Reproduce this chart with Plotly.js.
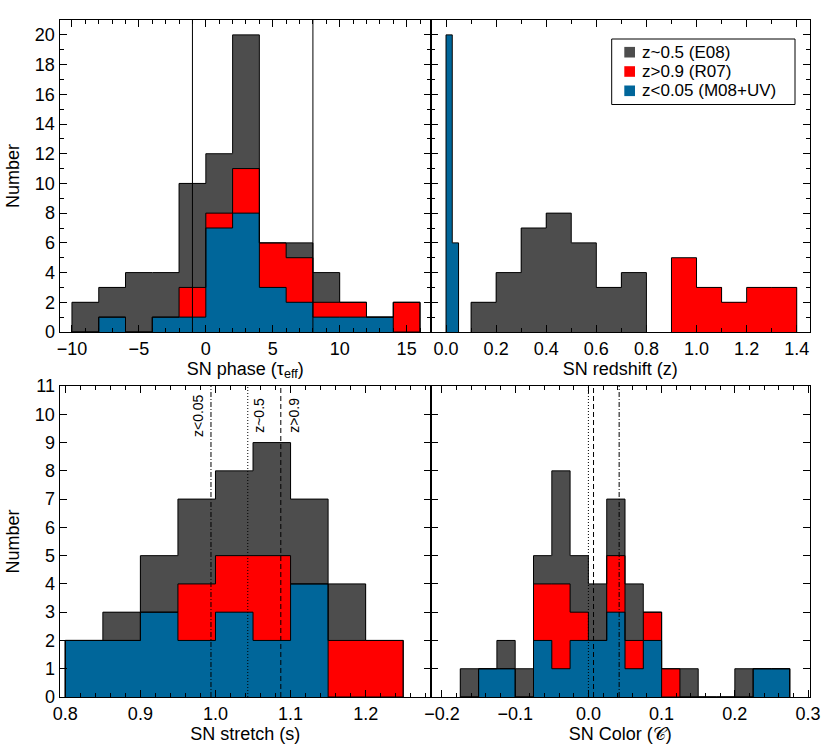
<!DOCTYPE html>
<html><head><meta charset="utf-8">
<script src="https://cdn.plot.ly/plotly-3.0.1.min.js"></script>
<style>html,body{margin:0;padding:0;background:#fff}#plot{width:830px;height:747px}</style>
</head><body><div id="plot"></div>
<script>
// ---------------- DATA ----------------
const seriesNames = ["z~0.5 (E08)", "z>0.9 (R07)", "z<0.05 (M08+UV)"];

// SN phase histogram (bins of 2 days starting at -10)
const phaseBinStart = -10, phaseBinWidth = 2;
const phaseE08 = [2, 2, 4, 3, 7, 4, 9, 0, 1, 2, 0, 0, 0];
const phaseR07 = [0, 0, 0, 0, 2, 1, 3, 3, 3, 1, 1, 0, 2];
const phaseM08 = [0, 1, 0, 1, 1, 7, 8, 3, 2, 1, 1, 1, 0];
const phaseCuts = [-1, 8];

// SN redshift histograms
const zE08Start = 0.1, zE08Width = 0.1;
const zE08 = [2, 4, 7, 8, 6, 3, 4];
const zR07Start = 0.9, zR07Width = 0.1;
const zR07 = [5, 3, 2, 3, 3];
const zM08Start = 0.0, zM08Width = 0.025;
const zM08 = [20, 6];

// SN stretch histogram
const stretchBinStart = 0.8, stretchBinWidth = 0.05;
const stretchE08 = [0, 1, 2, 3, 3, 4, 3, 2, 0];
const stretchR07 = [0, 0, 0, 2, 2, 3, 0, 2, 2];
const stretchM08 = [2, 2, 3, 2, 3, 2, 4, 0, 0];
const stretchMeanLabels = ["z<0.05", "z~0.5", "z>0.9"];
const stretchMeans = [0.994, 1.043, 1.087];

// SN color histogram
const colorBinStart = -0.175, colorBinWidth = 0.025;
const colorE08 = [1, 0, 1, 1, 1, 4, 2, 2, 2, 2, 0, 0, 1, 0, 0, 1, 0, 0];
const colorR07 = [0, 0, 0, 0, 2, 3, 1, 0, 2, 1, 1, 1, 0, 0, 0, 0, 0, 0];
const colorM08 = [0, 1, 1, 0, 2, 1, 2, 2, 3, 1, 2, 0, 0, 0, 0, 0, 1, 1];
const colorMeans = [0.042, 0.0, 0.007];   // z<0.05, z~0.5, z>0.9

// ---------------- STYLE ----------------
const COLS = ["#4d4d4d", "#ff0000", "#00669a"];
const FONT = "Liberation Sans, Arial, sans-serif";
const FS = 18;
const dashes = ["5px,2px,1px,2px", "1px,2px", "5px,3px"]; // z<0.05, z~0.5, z>0.9

const traces = [];
function addSum(a, b) { return a.map((v, i) => v + b[i]); }
function histTraces(xa, ya, start, width, counts, color, name) {
  const centers = counts.map((_, i) => start + width * (i + 0.5));
  traces.push({type: "bar", x: centers, y: counts, width: counts.map(() => width),
    xaxis: xa, yaxis: ya, marker: {color: color, line: {width: 0}},
    name: name, showlegend: false, hoverinfo: "skip"});
}
function outlineTrace(xa, ya, start, width, counts) {
  const xs = [start], ys = [0];
  counts.forEach((c, i) => { xs.push(start + width * i); ys.push(c); });
  xs.push(start + width * counts.length); ys.push(0);
  traces.push({type: "scatter", mode: "lines", x: xs, y: ys, xaxis: xa, yaxis: ya,
    line: {color: "#000", width: 1, shape: "hv"}, showlegend: false, hoverinfo: "skip"});
}
function stacked(xa, ya, start, width, e08, r07, m08) {
  const layers = [addSum(addSum(e08, r07), m08), addSum(r07, m08), m08];
  layers.forEach((c, k) => histTraces(xa, ya, start, width, c, COLS[k], seriesNames[k]));
  layers.forEach(c => outlineTrace(xa, ya, start, width, c));
}

// Panel 1: phase
stacked("x", "y", phaseBinStart, phaseBinWidth, phaseE08, phaseR07, phaseM08);
// Panel 2: redshift
histTraces("x2", "y2", zE08Start, zE08Width, zE08, COLS[0], seriesNames[0]);
histTraces("x2", "y2", zR07Start, zR07Width, zR07, COLS[1], seriesNames[1]);
histTraces("x2", "y2", zM08Start, zM08Width, zM08, COLS[2], seriesNames[2]);
outlineTrace("x2", "y2", zE08Start, zE08Width, zE08);
outlineTrace("x2", "y2", zR07Start, zR07Width, zR07);
outlineTrace("x2", "y2", zM08Start, zM08Width, zM08);
// Panel 3: stretch
stacked("x3", "y3", stretchBinStart, stretchBinWidth, stretchE08, stretchR07, stretchM08);
// Panel 4: color
stacked("x4", "y4", colorBinStart, colorBinWidth, colorE08, colorR07, colorM08);

// ---------------- LAYOUT ----------------
const W = 830, H = 747;
const xL = [59.5 / W, 431 / W], xR = [431 / W, 809.5 / W];
const yT = [(H - 332) / H, (H - 20) / H], yB = [(H - 697) / H, (H - 386) / H];

function axis(extra) {
  return Object.assign({
    showline: true, linecolor: "#000", linewidth: 1, mirror: "allticks",
    ticks: "inside", ticklen: 7, tickwidth: 1, tickcolor: "#000",
    showgrid: false, zeroline: false, fixedrange: true,
    tickfont: {family: FONT, size: FS, color: "#000"}
  }, extra);
}
function minor(d) { return {dtick: d, ticks: "inside", ticklen: 4, tickwidth: 1, tickcolor: "#000", showgrid: false}; }
function xtitle(t) { return {text: t, standoff: 3, font: {family: FONT, size: FS, color: "#000"}}; }
function ytitle(t) { return {text: t, standoff: 10, font: {family: FONT, size: FS, color: "#000"}}; }

const shapes = [];
phaseCuts.forEach(v => shapes.push({type: "line", xref: "x", yref: "y domain",
  x0: v, x1: v, y0: 0, y1: 1, line: {color: "#000", width: 1}}));
stretchMeans.forEach((v, i) => shapes.push({type: "line", xref: "x3", yref: "y3 domain",
  x0: v, x1: v, y0: 0, y1: 1, line: {color: "#000", width: 1, dash: dashes[i]}}));
colorMeans.forEach((v, i) => shapes.push({type: "line", xref: "x4", yref: "y4 domain",
  x0: v, x1: v, y0: 0, y1: 1, line: {color: "#000", width: 1, dash: dashes[i]}}));

const labelShift = [-13.5, 10.5, 12.3];
const annotations = stretchMeans.map((v, i) => ({
  xref: "x3", yref: "y3 domain", x: v, y: 0.905, text: stretchMeanLabels[i],
  textangle: -90, showarrow: false, xanchor: "center", yanchor: "middle",
  xshift: labelShift[i], font: {family: FONT, size: 14, color: "#000"}
}));

// Legend (box, colour squares, texts) in paper coordinates
shapes.push({type: "rect", xref: "paper", yref: "paper", x0: 611.7 / W, x1: 795 / W,
  y0: (H - 104.5) / H, y1: (H - 39) / H, line: {color: "#000", width: 1}, fillcolor: "#fff", layer: "above"});
const legRowY = [52.2, 71.5, 90.8];
seriesNames.forEach((name, k) => {
  const yc = (H - legRowY[k]) / H;
  shapes.push({type: "rect", xref: "paper", yref: "paper", x0: 624.3 / W, x1: 635 / W,
    y0: yc - 5.3 / H, y1: yc + 5.3 / H, line: {width: 0}, fillcolor: COLS[k], layer: "above"});
  annotations.push({xref: "paper", yref: "paper", x: 640.5 / W, y: yc, text: name,
    showarrow: false, xanchor: "left", yanchor: "middle", borderpad: 0,
    font: {family: FONT, size: 17, color: "#000"}});
});

const layout = {
  width: W, height: H, margin: {l: 0, r: 0, t: 0, b: 0},
  paper_bgcolor: "#fff", plot_bgcolor: "#fff", barmode: "overlay", bargap: 0,
  showlegend: false,
  xaxis: axis({domain: xL, anchor: "y", range: [-10.93, 16.82], tick0: 0, dtick: 5, minor: minor(1),
    title: xtitle("SN phase (τ<sub>eff</sub>)")}),
  yaxis: axis({domain: yT, anchor: "x", range: [0, 21], tick0: 0, dtick: 2, minor: minor(1),
    title: ytitle("Number")}),
  xaxis2: axis({domain: xR, anchor: "y2", range: [-0.06, 1.451], tick0: 0, dtick: 0.2, tickformat: ".1f", minor: minor(0.1),
    title: xtitle("SN redshift (z)")}),
  yaxis2: axis({domain: yT, anchor: "x2", range: [0, 21], tick0: 0, dtick: 2, minor: minor(1), showticklabels: false}),
  xaxis3: axis({domain: xL, anchor: "y3", range: [0.7923, 1.287], tick0: 0, dtick: 0.1, tickformat: ".1f", minor: minor(0.02),
    title: xtitle("SN stretch (s)")}),
  yaxis3: axis({domain: yB, anchor: "x3", range: [0, 11], tick0: 0, dtick: 1,
    title: ytitle("Number")}),
  xaxis4: axis({domain: xR, anchor: "y4", range: [-0.215, 0.302], tick0: 0, dtick: 0.1, tickformat: ".1f", minor: minor(0.02),
    title: xtitle("SN Color (𝒞)")}),
  yaxis4: axis({domain: yB, anchor: "x4", range: [0, 11], tick0: 0, dtick: 1, showticklabels: false}),
  shapes: shapes, annotations: annotations
};

Plotly.newPlot("plot", traces, layout, {displayModeBar: false, staticPlot: true});
</script>
</body></html>
